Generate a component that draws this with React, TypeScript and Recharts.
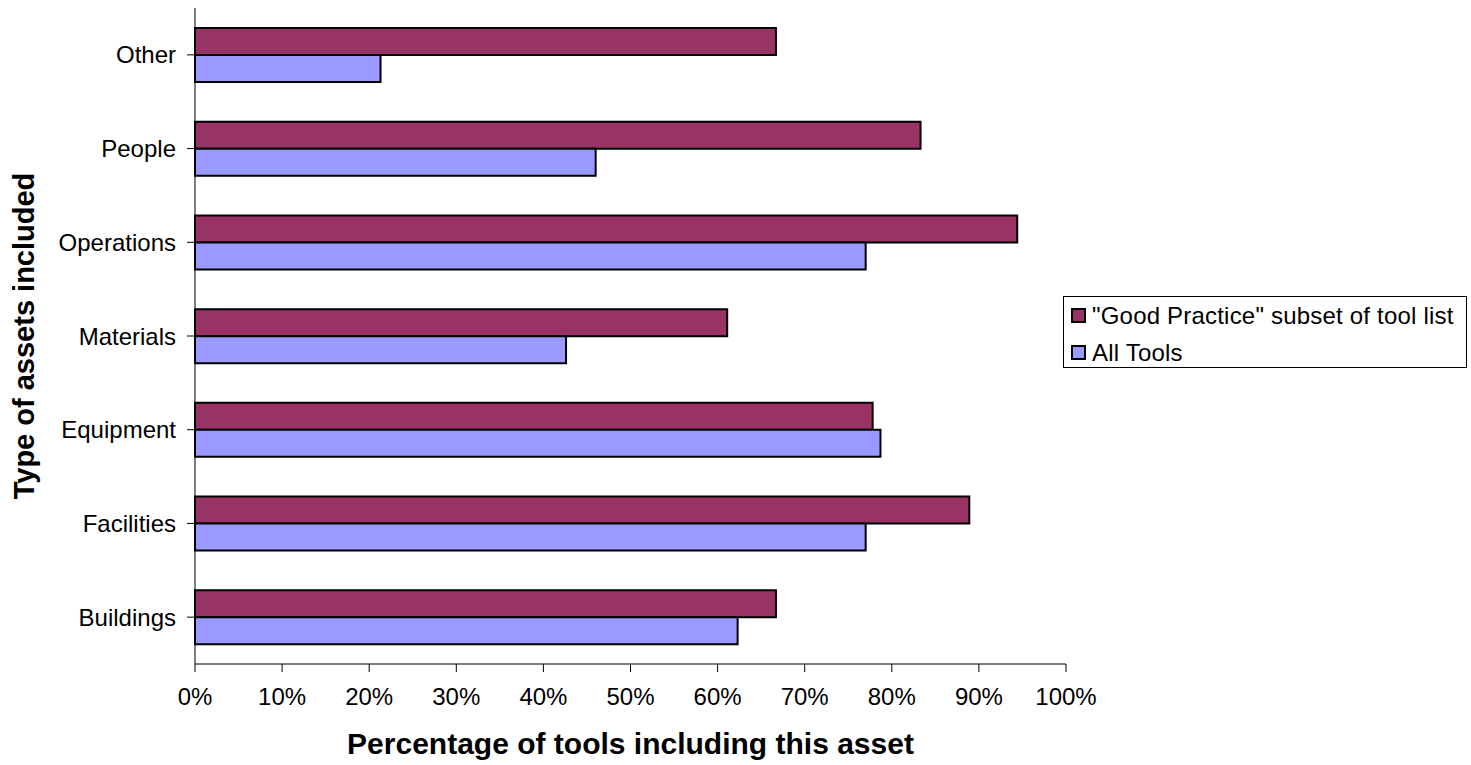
import React from "react";
import { BarChart, Bar, XAxis, YAxis } from "recharts";

// Asset categories, listed top to bottom
const categories = ["Other", "People", "Operations", "Materials", "Equipment", "Facilities", "Buildings"];
// Share of "Good Practice" tools covering each asset (%)
const goodPractice = [66.7, 83.3, 94.4, 61.1, 77.8, 88.9, 66.7];
// Share of all tools covering each asset (%)
const allTools = [21.3, 46.0, 77.0, 42.6, 78.7, 77.0, 62.3];
const xTicks = [0, 10, 20, 30, 40, 50, 60, 70, 80, 90, 100];

const series = [
  { key: "good", name: '"Good Practice" subset of tool list', color: "#993366" },
  { key: "all", name: "All Tools", color: "#9999FF" },
];

const data = categories.map((name, i) => ({
  name,
  good: goodPractice[i],
  all: allTools[i],
}));

const FONT = "'Liberation Sans', Arial, sans-serif";

function LegendBox() {
  return (
    <div
      style={{
        position: "absolute",
        left: 1063,
        top: 296,
        width: 404,
        height: 72,
        border: "1px solid #000",
        boxSizing: "border-box",
        fontFamily: FONT,
        fontSize: 24,
        color: "#000",
        background: "#fff",
      }}
    >
      {series.map((s, i) => (
        <div
          key={s.key}
          style={{
            position: "absolute",
            left: 7,
            top: i * 37,
            height: 37,
            display: "flex",
            alignItems: "center",
            whiteSpace: "nowrap",
          }}
        >
          <span
            style={{
              display: "inline-block",
              width: 15,
              height: 15,
              background: s.color,
              border: "2px solid #000",
              boxSizing: "border-box",
              marginRight: 6,
            }}
          />
          <span style={{ lineHeight: "28px", letterSpacing: 0.2 }}>{s.name}</span>
        </div>
      ))}
    </div>
  );
}

export default function App() {
  return (
    <div style={{ position: "absolute", left: 0, top: 0, width: 1471, height: 765, background: "#fff" }}>
      <BarChart
        width={1471}
        height={765}
        data={data}
        layout="vertical"
        margin={{ top: 8, right: 405, left: 0, bottom: 0 }}
        barGap={0}
      >
        <XAxis
          type="number"
          domain={[0, 100]}
          ticks={xTicks}
          tickFormatter={(v: number) => `${v}%`}
          height={101}
          tickSize={8}
          tickMargin={16}
          axisLine={{ stroke: "#000" }}
          tickLine={{ stroke: "#000" }}
          tick={{ fill: "#000", fontSize: 24, fontFamily: FONT }}
          interval={0}
          label={{
            value: "Percentage of tools including this asset",
            position: "insideBottom",
            offset: 11,
            style: { fill: "#000", fontSize: 30, fontWeight: "bold", fontFamily: FONT },
          }}
        />
        <YAxis
          type="category"
          dataKey="name"
          width={195}
          tickSize={8}
          tickMargin={11}
          axisLine={{ stroke: "#000" }}
          tickLine={{ stroke: "#000" }}
          tick={{ fill: "#000", fontSize: 24, fontFamily: FONT }}
          interval={0}
          label={{
            value: "Type of assets included",
            angle: -90,
            position: "insideLeft",
            offset: 24,
            style: { fill: "#000", fontSize: 29, fontWeight: "bold", fontFamily: FONT, textAnchor: "middle" },
          }}
        />
        {series.map((s) => (
          <Bar
            key={s.key}
            dataKey={s.key}
            name={s.name}
            fill={s.color}
            stroke="#000"
            strokeWidth={2}
            barSize={27}
            isAnimationActive={false}
          />
        ))}
      </BarChart>
      <LegendBox />
    </div>
  );
}
